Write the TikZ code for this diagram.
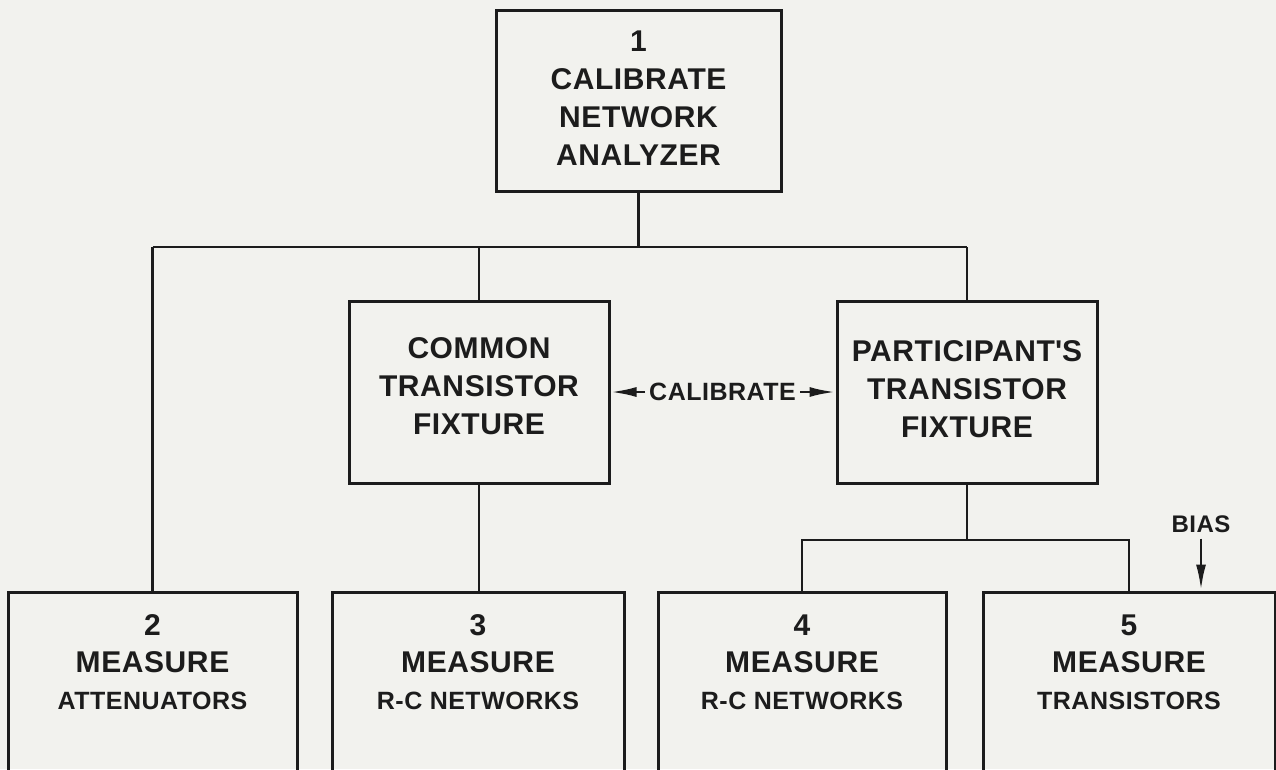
\documentclass[tikz,border=0pt]{standalone}
\usepackage{fontspec}
\setmainfont{Liberation Sans}[LetterSpace=2]
\usetikzlibrary{arrows.meta}
\definecolor{bg}{RGB}{242,242,238}
\definecolor{ink}{RGB}{28,28,28}
\begin{document}
\begin{tikzpicture}[x=1pt,y=-1pt,
  box/.style={draw=ink,line width=3pt,inner sep=0pt},
  big/.style={font=\fontsize{30}{38}\selectfont\bfseries,text=ink,align=center,inner sep=0pt},
  small/.style={font=\fontsize{25}{30}\selectfont\bfseries,text=ink,align=center,inner sep=0pt},
  wire/.style={draw=ink,line width=2.8pt},
  arr/.style={wire,-{Latex[length=26pt,width=10pt]}},
]
\clip (0,0) rectangle (1276,769);
\fill[bg] (0,0) rectangle (1276,769);

% boxes
\node[box,minimum width=285pt,minimum height=181pt] (b1) at (638.5,100.5) {};
\node[box,minimum width=260pt,minimum height=182pt] (common) at (479,392) {};
\node[box,minimum width=260pt,minimum height=182pt] (part) at (967,392) {};
\node[box,minimum width=289pt,minimum height=248pt] (b2) at (152.5,716) {};
\node[box,minimum width=292pt,minimum height=248pt] (b3) at (478,716) {};
\node[box,minimum width=288pt,minimum height=248pt] (b4) at (802,716) {};
\node[box,minimum width=292pt,minimum height=248pt] (b5) at (1129,716) {};

% texts
\node[big] (t1) at (638.5,98) {1\\CALIBRATE\\NETWORK\\ANALYZER};
\node[big] (tc) at (479,386) {COMMON\\TRANSISTOR\\FIXTURE};
\node[big] (tp) at (967,389) {PARTICIPANT\textquotesingle S\\TRANSISTOR\\FIXTURE};

\node[big] (n2) at (152.5,625) {2};
\node[big] (m2) at (152.5,662) {MEASURE};
\node[small] (s2) at (152.5,701) {ATTENUATORS};
\node[big] (n3) at (478,625) {3};
\node[big] (m3) at (478,662) {MEASURE};
\node[small] (s3) at (478,701) {R-C NETWORKS};
\node[big] (n4) at (802,625) {4};
\node[big] (m4) at (802,662) {MEASURE};
\node[small] (s4) at (802,701) {R-C NETWORKS};
\node[big] (n5) at (1129,625) {5};
\node[big] (m5) at (1129,662) {MEASURE};
\node[small] (s5) at (1129,701) {TRANSISTORS};

% connectors
\coordinate (bus1) at (638.5,247);
\coordinate (busL) at (152.5,247);
\coordinate (busR) at (967,247);
\draw[wire] (b1.south) -- (bus1);
\draw[wire] (busL) -- (busR);
\draw[wire] (busL) -- (b2.north);
\draw[wire] (common.north |- busL) -- (common.north);
\draw[wire] (busR) -- (part.north);
\draw[wire] (common.south) -- (common.south |- b3.north);
\coordinate (split) at (967,540);
\draw[wire] (part.south) -- (split);
\draw[wire] (b4.north) -- (b4.north |- split) -- (b5.north |- split) -- (b5.north);

% calibrate label with arrows
\node[small,inner sep=4pt] (cal) at (722.5,392) {CALIBRATE};
\draw[arr] (cal.west) -- (common.east);
\draw[arr] (cal.east) -- (part.west);

% bias
\node[small,font=\fontsize{24}{28}\selectfont\bfseries] (bias) at (1201,524) {BIAS};
\draw[arr] ([yshift=-6pt]bias.south) -- (bias.south |- b5.north);
\end{tikzpicture}
\end{document}
